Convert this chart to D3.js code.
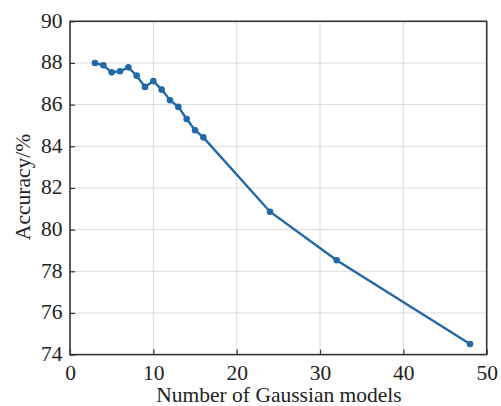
<!DOCTYPE html>
<html><head><meta charset="utf-8">
<script src="https://cdn.jsdelivr.net/npm/d3@7"></script>
<style>body{margin:0;background:#fff}svg{display:block}</style>
</head><body>
<svg id="c" width="501" height="406"></svg>
<script>
const xValues = [3,4,5,6,7,8,9,10,11,12,13,14,15,16,24,32,48];
const accuracy = [88.0,87.89,87.55,87.6,87.79,87.39,86.85,87.13,86.72,86.21,85.89,85.31,84.77,84.43,80.86,78.53,74.51];
const xTicks = [0,10,20,30,40,50];
const yTicks = [74,76,78,80,82,84,86,88,90];
const xLabel = "Number of Gaussian models";
const yLabel = "Accuracy/%";

const svg = d3.select("#c");
const L = 70, R = 486.7, T = 21.3, B = 354.6;
const x = d3.scaleLinear().domain([0,50]).range([L,R]);
const y = d3.scaleLinear().domain([74,90]).range([B,T]);
const font = "'Liberation Serif','Times New Roman',serif";
const g = svg.append("g");

// grid
g.selectAll(".gx").data(xTicks.slice(1,-1)).enter().append("line")
 .attr("x1",d=>x(d)).attr("x2",d=>x(d)).attr("y1",T).attr("y2",B)
 .attr("stroke","#dcdcdc").attr("stroke-width",1);
g.selectAll(".gy").data(yTicks.slice(1,-1)).enter().append("line")
 .attr("y1",d=>y(d)).attr("y2",d=>y(d)).attr("x1",L).attr("x2",R)
 .attr("stroke","#dcdcdc").attr("stroke-width",1);

// axes
const xa = svg.append("g").attr("transform",`translate(0,${B})`)
 .call(d3.axisBottom(x).tickValues(xTicks).tickSizeInner(-5).tickSizeOuter(0).tickPadding(10));
const ya = svg.append("g").attr("transform",`translate(${L},0)`)
 .call(d3.axisLeft(y).tickValues(yTicks).tickSizeInner(-5).tickSizeOuter(0).tickPadding(7.5));
[xa,ya].forEach(a=>{
 a.selectAll("text").attr("font-family",font).attr("font-size",21.5).attr("fill","#222");
 a.selectAll("line").attr("stroke","#333").attr("stroke-width",1.2);
 a.select(".domain").remove();
});
xa.selectAll("text").attr("dy","0.71em");
ya.selectAll("text").attr("dy","0.27em");

// frame
svg.append("rect").attr("x",L).attr("y",T).attr("width",R-L).attr("height",B-T)
 .attr("fill","none").attr("stroke","#333").attr("stroke-width",1.6);

// line
const line = d3.line().x((d,i)=>x(xValues[i])).y(d=>y(d));
svg.append("path").datum(accuracy).attr("d",line)
 .attr("fill","none").attr("stroke","#2068a8").attr("stroke-width",2.4);
svg.selectAll(".pt").data(accuracy).enter().append("circle")
 .attr("cx",(d,i)=>x(xValues[i])).attr("cy",d=>y(d)).attr("r",3.3).attr("fill","#2068a8");

// labels
svg.append("text").attr("x",279).attr("y",402).attr("text-anchor","middle")
 .attr("font-family",font).attr("font-size",21.5).attr("fill","#222").text(xLabel);
svg.append("text").attr("transform",`translate(30,187) rotate(-90)`).attr("text-anchor","middle")
 .attr("font-family",font).attr("font-size",21.5).attr("fill","#222").text(yLabel);
</script>
</body></html>
